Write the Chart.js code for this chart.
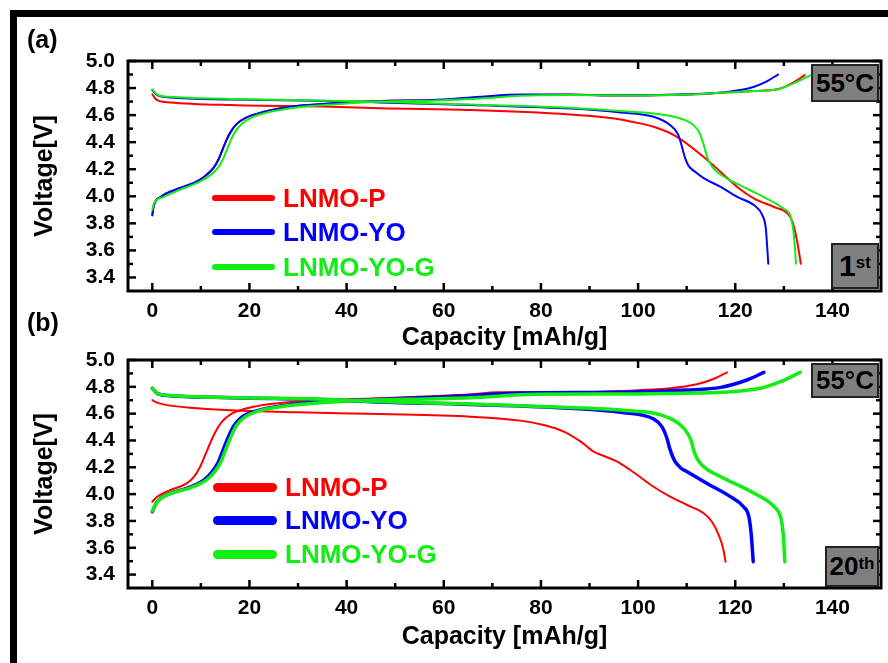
<!DOCTYPE html>
<html>
<head>
<meta charset="utf-8">
<script src="https://cdn.jsdelivr.net/npm/chart.js@4.4.1/dist/chart.umd.min.js"></script>
<style>
  body { margin: 0; background: #fff; }
  #fig { position: relative; width: 888px; height: 663px; overflow: hidden; background: #fff; font-family: "Liberation Sans", Arial, sans-serif; }
  #frame { position: absolute; left: 10px; top: 10px; width: 900px; height: 700px; border-top: 7px solid #000; border-left: 7px solid #000; }
  canvas { position: absolute; left: 0; }
  .lab { position: absolute; left: 27px; font-weight: bold; font-size: 25px; line-height: 28px; color: #000; }
  .tag { position: absolute; box-sizing: border-box; background: #7f7f7f; border: 2px solid #222; color: #000;
         font-weight: bold; font-size: 26px; display: flex; align-items: center; justify-content: center; }
  .tag sup { font-size: 17px; position: relative; top: -3px; }
  .leg-line { position: absolute; border-radius: 5px; }
  .leg-text { position: absolute; font-weight: bold; font-size: 26px; line-height: 26px; white-space: nowrap; }
</style>
</head>
<body>
<div id="fig">
  <div id="frame"></div>
  <canvas id="chartA" width="888" height="355" style="top:0"></canvas>
  <canvas id="chartB" width="888" height="363" style="top:300px"></canvas>
  <div class="lab" style="top:25px">(a)</div>
  <div class="lab" style="top:308px">(b)</div>
  <div class="tag" style="left:811px;top:64px;width:68px;height:38px">55°C</div>
  <div class="tag" style="left:831px;top:243px;width:48px;height:46px;font-size:30px">1<sup>st</sup></div>
  <div class="tag" style="left:811px;top:363px;width:68px;height:35px">55°C</div>
  <div class="tag" style="left:825px;top:546px;width:54px;height:41px">20<sup>th</sup></div>
</div>
<script>
const FONT = '"Liberation Sans", Arial, sans-serif';

const samples = ['LNMO-P', 'LNMO-YO', 'LNMO-YO-G'];
const colors = ['#ff0000', '#0000ff', '#11ee11'];

const capTicks = [0, 20, 40, 60, 80, 100, 120, 140];
const capMinor = [10, 30, 50, 70, 90, 110, 130];
const voltTicks = [3.4, 3.6, 3.8, 4.0, 4.2, 4.4, 4.6, 4.8, 5.0];
const voltMinor = [3.5, 3.7, 3.9, 4.1, 4.3, 4.5, 4.7, 4.9];

// (a) 1st cycle, [capacity, voltage]
const a_P_chg = [[0,3.86],[0.3,3.93],[1.7,3.995],[4.4,4.044],[9.2,4.111],[11.2,4.16],[12.6,4.21],[13.6,4.27],[14.4,4.34],[15.2,4.41],[16.2,4.48],[17.4,4.535],[19.2,4.58],[23,4.625],[28.4,4.662],[36.6,4.686],[46.9,4.704],[58.6,4.711],[67.5,4.728],[75.8,4.748],[86,4.75],[96.4,4.745],[110,4.752],[117,4.765],[123.9,4.778],[129.3,4.797],[132,4.842],[134.3,4.896]];
const a_YO_chg = [[0,3.86],[0.3,3.93],[1.7,3.995],[4.4,4.044],[9.2,4.111],[11.2,4.16],[12.6,4.21],[13.6,4.27],[14.4,4.34],[15.2,4.41],[16.2,4.48],[17.4,4.535],[19.2,4.58],[23,4.625],[28.4,4.662],[36.6,4.686],[46.9,4.704],[58.6,4.713],[67.5,4.736],[75.8,4.753],[86,4.752],[96.4,4.746],[110,4.755],[117,4.765],[121,4.785],[123.9,4.81],[126.6,4.852],[128.8,4.9]];
const a_YOG_chg = [[0,3.9],[0.4,3.95],[2.4,3.995],[5.5,4.045],[9.9,4.111],[12.1,4.16],[13.5,4.21],[14.5,4.27],[15.3,4.34],[16.1,4.41],[17.1,4.48],[18.4,4.535],[20.2,4.578],[24.3,4.625],[29.8,4.657],[38,4.681],[46.9,4.7],[58.6,4.708],[67.5,4.722],[75.8,4.743],[86,4.748],[96.4,4.745],[110,4.752],[117,4.765],[123.9,4.778],[129.3,4.795],[132,4.835],[135.6,4.895]];
const a_P_dis = [[0,4.753],[1,4.711],[3.7,4.694],[16.1,4.674],[36.6,4.662],[46.9,4.65],[65.5,4.637],[86,4.605],[92.9,4.585],[96.4,4.568],[98.4,4.553],[103.2,4.514],[108,4.44],[113.5,4.291],[117,4.18],[120.4,4.069],[123.9,3.983],[128,3.921],[130.8,3.872],[131.8,3.81],[132.5,3.711],[133,3.612],[133.5,3.501]];
const a_YO_dis = [[0,4.785],[1,4.748],[3.7,4.731],[16.1,4.716],[36.6,4.704],[46.9,4.694],[65.5,4.674],[86,4.648],[96.4,4.62],[103.2,4.588],[106.6,4.526],[108.2,4.46],[109,4.37],[109.7,4.28],[110.4,4.225],[111.6,4.185],[113.5,4.135],[117,4.069],[120.4,3.995],[123.9,3.933],[125.6,3.859],[126.3,3.76],[126.6,3.612],[126.8,3.501]];
const a_YOG_dis = [[0,4.79],[1,4.752],[3.7,4.735],[16.1,4.72],[36.6,4.707],[46.9,4.698],[65.5,4.678],[86,4.655],[96.4,4.63],[103.2,4.612],[108.7,4.575],[111.4,4.526],[112.7,4.464],[113.6,4.37],[114.3,4.28],[115.2,4.22],[116.6,4.17],[118.3,4.131],[122.4,4.057],[126.5,3.983],[129.9,3.909],[131.3,3.859],[132,3.736],[132.3,3.612],[132.5,3.501]];

// (b) 20th cycle
const b_P_chg = [[0,3.943],[1,3.98],[3.7,4.03],[7.1,4.08],[8.6,4.13],[9.8,4.2],[10.9,4.292],[11.8,4.37],[12.8,4.45],[14.1,4.53],[16.1,4.595],[19.5,4.64],[24.3,4.672],[29.8,4.69],[36.7,4.702],[46.9,4.714],[58.6,4.731],[65.5,4.744],[71,4.759],[86,4.76],[96.4,4.769],[106.6,4.789],[112.1,4.819],[115.5,4.858],[118.3,4.908]];
const b_YO_chg = [[0,3.869],[1,3.943],[3.7,4.006],[7.1,4.043],[10.6,4.105],[12.4,4.17],[13.6,4.24],[14.7,4.341],[15.7,4.43],[16.8,4.51],[18.3,4.57],[20.9,4.615],[26.4,4.657],[33.2,4.682],[43.5,4.702],[58.6,4.722],[65.5,4.734],[75.8,4.754],[96.4,4.759],[110.1,4.776],[117,4.796],[122.4,4.851],[125.9,4.908]];
const b_YOG_chg = [[0,3.875],[1.1,3.945],[3.9,4.006],[7.5,4.043],[11.1,4.105],[12.9,4.17],[14.1,4.24],[15.2,4.341],[16.2,4.43],[17.3,4.51],[18.9,4.57],[21.5,4.615],[27,4.655],[34,4.68],[44,4.7],[58.6,4.712],[65.5,4.719],[79.2,4.744],[96.4,4.746],[110,4.752],[117,4.759],[125.2,4.789],[129.3,4.838],[133.4,4.908]];
const b_P_dis = [[0,4.702],[0.5,4.69],[2.3,4.669],[9.2,4.64],[16.1,4.625],[29.8,4.61],[46.9,4.597],[65.5,4.577],[75.8,4.548],[80.6,4.515],[84.7,4.466],[88.2,4.391],[90.9,4.316],[93,4.284],[95.7,4.242],[98.4,4.18],[103.2,4.055],[106.6,3.981],[110.1,3.919],[113.5,3.857],[115.2,3.794],[116.6,3.695],[117.5,3.596],[118,3.496]];
const b_YO_dis = [[0,4.789],[1,4.751],[3.7,4.734],[16.1,4.719],[36.7,4.704],[44.9,4.689],[65.5,4.669],[86,4.64],[96.4,4.61],[103.2,4.56],[104.9,4.503],[105.9,4.42],[106.6,4.33],[107.5,4.25],[108.8,4.195],[110.1,4.167],[114.2,4.08],[119,3.981],[121.7,3.906],[122.8,3.832],[123.3,3.695],[123.7,3.496]];
const b_YOG_dis = [[0,4.79],[1,4.752],[3.7,4.735],[16.1,4.72],[36.7,4.706],[44.9,4.692],[65.5,4.672],[86,4.646],[96.4,4.627],[106.6,4.565],[109.7,4.478],[110.9,4.4],[111.6,4.31],[112.5,4.245],[114,4.19],[117,4.13],[123.9,4.006],[128,3.906],[129.4,3.82],[129.9,3.695],[130.2,3.496]];

function series(pairs, color, width) {
  return {
    data: pairs.map(p => ({ x: p[0], y: p[1] })),
    borderColor: color,
    borderWidth: width,
    pointRadius: 0,
    fill: false,
    cubicInterpolationMode: 'monotone',
    borderCapStyle: 'round',
    borderJoinStyle: 'round'
  };
}

// frame + inward ticks on all four sides
const frameTicks = {
  id: 'frameTicks',
  afterDraw(chart) {
    const { ctx, chartArea: a, scales: { x, y } } = chart;
    ctx.save();
    ctx.strokeStyle = '#000';
    ctx.lineWidth = 2.5;
    const seg = (x1, y1, x2, y2) => { ctx.beginPath(); ctx.moveTo(x1, y1); ctx.lineTo(x2, y2); ctx.stroke(); };
    capTicks.forEach(v => { const px = x.getPixelForValue(v); seg(px, a.bottom, px, a.bottom - 8); seg(px, a.top, px, a.top + 8); });
    capMinor.forEach(v => { const px = x.getPixelForValue(v); seg(px, a.bottom, px, a.bottom - 5); seg(px, a.top, px, a.top + 5); });
    voltTicks.forEach(v => { const py = y.getPixelForValue(v); seg(a.left, py, a.left + 8, py); seg(a.right, py, a.right - 8, py); });
    voltMinor.forEach(v => { const py = y.getPixelForValue(v); seg(a.left, py, a.left + 5, py); seg(a.right, py, a.right - 5, py); });
    ctx.lineWidth = 3;
    ctx.strokeRect(a.left, a.top, a.right - a.left, a.bottom - a.top);
    ctx.restore();
  }
};

function makeChart(id, curves, widths, padTop, xHeight, titlePad) {
  const datasets = [];
  // green first so it lies on top
  [2, 1, 0].forEach(i => {
    datasets.push(series(curves[i][0], colors[i], widths[i]));
    datasets.push(series(curves[i][1], colors[i], widths[i]));
  });
  return new Chart(document.getElementById(id), {
    type: 'line',
    data: { datasets },
    options: {
      responsive: false,
      animation: false,
      layout: { padding: { top: padTop, right: 7, left: 0, bottom: 0 } },
      plugins: { legend: { display: false }, tooltip: { enabled: false } },
      scales: {
        x: {
          type: 'linear', min: -5, max: 150,
          afterBuildTicks: s => { s.ticks = capTicks.map(v => ({ value: v })); },
          afterFit: s => { s.height = xHeight; },
          grid: { display: false, drawTicks: false },
          border: { display: false },
          ticks: { color: '#000', padding: 8, maxRotation: 0, font: { family: FONT, size: 21, weight: 'bold' } },
          title: { display: true, text: 'Capacity [mAh/g]', color: '#000', padding: { top: 0, bottom: titlePad },
                   font: { family: FONT, size: 25, weight: 'bold' } }
        },
        y: {
          type: 'linear', min: 3.3, max: 5.0,
          afterBuildTicks: s => { s.ticks = voltTicks.map(v => ({ value: v })); },
          afterFit: s => { s.width = 128; },
          grid: { display: false, drawTicks: false },
          border: { display: false },
          ticks: { color: '#000', padding: 13, callback: v => v.toFixed(1), font: { family: FONT, size: 21, weight: 'bold' } },
          title: { display: true, text: 'Voltage[V]', color: '#000', padding: { top: 30, bottom: 0 },
                   font: { family: FONT, size: 25, weight: 'bold' } }
        }
      }
    },
    plugins: [frameTicks]
  });
}

makeChart('chartA', [[a_P_chg, a_P_dis], [a_YO_chg, a_YO_dis], [a_YOG_chg, a_YOG_dis]], [2, 2, 2], 61, 64, 2);
makeChart('chartB', [[b_P_chg, b_P_dis], [b_YO_chg, b_YO_dis], [b_YOG_chg, b_YOG_dis]], [2, 3.5, 3.5], 60, 75, 11);

// legends inside the plots
function addLegend(rows, lineLeft, lineW, thick) {
  const fig = document.getElementById('fig');
  samples.forEach((name, i) => {
    const ln = document.createElement('div');
    ln.className = 'leg-line';
    ln.style.cssText = `left:${lineLeft}px;top:${rows[i] - thick / 2}px;width:${lineW}px;height:${thick}px;background:${colors[i]}`;
    fig.appendChild(ln);
    const tx = document.createElement('div');
    tx.className = 'leg-text';
    tx.style.cssText = `left:${lineLeft + lineW + 8}px;top:${rows[i] - 13}px;color:${colors[i]}`;
    tx.textContent = name;
    fig.appendChild(tx);
  });
}
addLegend([198, 232, 267], 212, 63, 6);
addLegend([487, 520, 554], 213, 64, 9);
</script>
</body>
</html>
